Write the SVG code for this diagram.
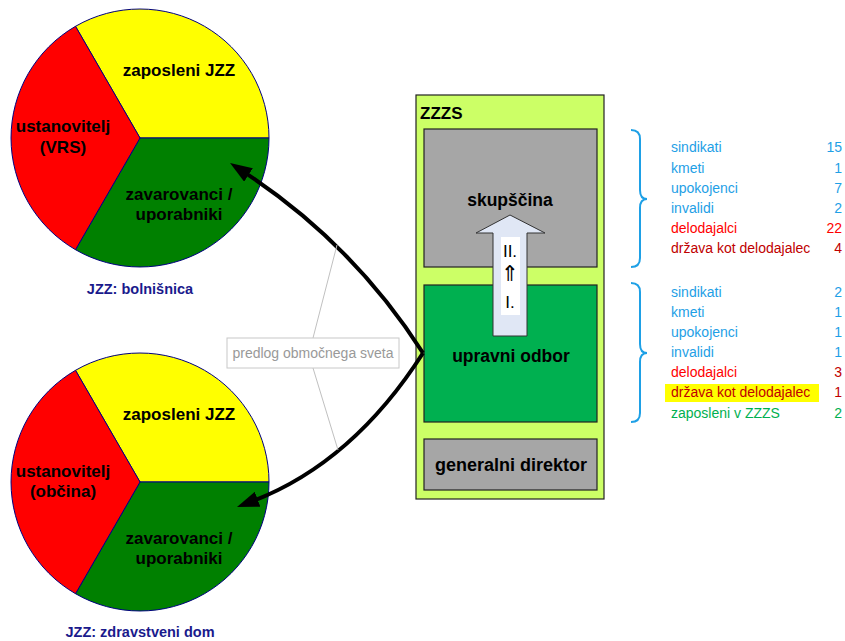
<svg xmlns="http://www.w3.org/2000/svg" width="845" height="641" viewBox="0 0 845 641">
<defs>
<style>
.t{font-family:"Liberation Sans",Arial,sans-serif}
.b{font-family:"Liberation Sans",Arial,sans-serif;font-weight:bold}
.pie{stroke:#000080;stroke-width:1}
.box{stroke:#222;stroke-width:1.2}
.lst{font-family:"Liberation Sans",Arial,sans-serif;font-size:14px}
.blue{fill:#1ea0e6}
.red{fill:#ff0000}
.dred{fill:#c00000}
.grn{fill:#00b050}
.brace{fill:none;stroke:#1ea0e6;stroke-width:2}
</style>
<marker id="ah" viewBox="0 0 22 16" markerUnits="userSpaceOnUse" markerWidth="22" markerHeight="16" refX="8" refY="8" orient="auto">
<path d="M0,0 L22,8 L0,16 z" fill="#000"/>
</marker>
</defs>
<rect width="845" height="641" fill="#fff"/>

<g id="pie-bolnisnica">
<path class="pie" d="M140,138 L75.5,26.3 A129,129 0 0 1 269,138 Z" fill="#ffff00"/>
<path class="pie" d="M140,138 L269,138 A129,129 0 0 1 75.5,249.7 Z" fill="#008000"/>
<path class="pie" d="M140,138 L75.5,249.7 A129,129 0 0 1 75.5,26.3 Z" fill="#ff0000"/>
<text class="b" font-size="17" x="179" y="76" text-anchor="middle">zaposleni JZZ</text>
<text class="b" font-size="17" x="63" y="132" text-anchor="middle">ustanovitelj</text>
<text class="b" font-size="17" x="63" y="153" text-anchor="middle">(VRS)</text>
<text class="b" font-size="17" x="179" y="200" text-anchor="middle">zavarovanci /</text>
<text class="b" font-size="17" x="179" y="220" text-anchor="middle">uporabniki</text>
<text class="b" font-size="14.5" x="140" y="294" text-anchor="middle" fill="#1a1a8c">JZZ: bolnišnica</text>
</g>

<g id="pie-zdravstveni-dom">
<path class="pie" d="M140,482 L75.5,370.3 A129,129 0 0 1 269,482 Z" fill="#ffff00"/>
<path class="pie" d="M140,482 L269,482 A129,129 0 0 1 75.5,593.7 Z" fill="#008000"/>
<path class="pie" d="M140,482 L75.5,593.7 A129,129 0 0 1 75.5,370.3 Z" fill="#ff0000"/>
<text class="b" font-size="17" x="179" y="420" text-anchor="middle">zaposleni JZZ</text>
<text class="b" font-size="17" x="63" y="477" text-anchor="middle">ustanovitelj</text>
<text class="b" font-size="17" x="63" y="497" text-anchor="middle">(občina)</text>
<text class="b" font-size="17" x="179" y="544" text-anchor="middle">zavarovanci /</text>
<text class="b" font-size="17" x="179" y="564" text-anchor="middle">uporabniki</text>
<text class="b" font-size="14.5" x="140" y="637" text-anchor="middle" fill="#1a1a8c">JZZ: zdravstveni dom</text>
</g>

<g id="zzzs">
<rect class="box" x="416" y="95" width="188" height="404" fill="#ccff66"/>
<text class="b" font-size="17" x="420" y="119">ZZZS</text>
</g>

<g id="skupscina">
<rect class="box" x="424" y="129" width="173" height="138" fill="#a6a6a6"/>
<text class="b" font-size="17.5" x="510" y="206" text-anchor="middle">skupščina</text>
</g>

<g id="upravni-odbor">
<rect class="box" x="424" y="285" width="173" height="137" fill="#00b050"/>
<text class="b" font-size="17.5" x="511" y="362" text-anchor="middle">upravni odbor</text>
</g>

<g id="generalni-direktor">
<rect class="box" x="424" y="439" width="173" height="51" fill="#a6a6a6"/>
<text class="b" font-size="18" x="511" y="471" text-anchor="middle">generalni direktor</text>
</g>

<g id="block-arrow">
<path d="M493,336 L493,233 L476,233 L510,215 L545,233 L527,233 L527,336 Z" fill="#e0e7f5" stroke="#333" stroke-width="1"/>
<rect x="501" y="237" width="19" height="78" fill="#fff"/>
<text class="t" font-size="17" x="510" y="257" text-anchor="middle">II.</text>
<text font-family="'DejaVu Sans',sans-serif" font-size="22" x="510" y="281" text-anchor="middle" fill="#000">⇑</text>
<text class="t" font-size="17" x="510" y="308" text-anchor="middle">I.</text>
</g>

<g id="connectors">
<path d="M423,353 Q352,242 241.8,170.6" fill="none" stroke="#000" stroke-width="4" marker-end="url(#ah)"/>
<path d="M423,353 Q352,464 250.1,502.1" fill="none" stroke="#000" stroke-width="4" marker-end="url(#ah)"/>
<line x1="313" y1="338" x2="337" y2="245" stroke="#c0c0c0" stroke-width="1"/>
<line x1="313" y1="368" x2="338" y2="450" stroke="#c0c0c0" stroke-width="1"/>
</g>

<g id="predlog">
<rect x="227" y="338" width="172" height="30" fill="#fff" stroke="#c8c8c8" stroke-width="1"/>
<text class="t" font-size="14" x="313" y="358" text-anchor="middle" fill="#999">predlog območnega sveta</text>
</g>

<g id="list-skupscina">
<path class="brace" d="M631,130 Q640,130 640,139 L640,190 Q640,199 647,199 Q640,199 640,208 L640,258 Q640,267 631,267"/>
<g class="lst">
<text class="blue" x="671" y="152">sindikati</text><text class="blue" x="842" y="152" text-anchor="end">15</text>
<text class="blue" x="671" y="173">kmeti</text><text class="blue" x="842" y="173" text-anchor="end">1</text>
<text class="blue" x="671" y="193">upokojenci</text><text class="blue" x="842" y="193" text-anchor="end">7</text>
<text class="blue" x="671" y="213">invalidi</text><text class="blue" x="842" y="213" text-anchor="end">2</text>
<text class="red" x="671" y="233">delodajalci</text><text class="red" x="842" y="233" text-anchor="end">22</text>
<text class="dred" x="671" y="253">država kot delodajalec</text><text class="dred" x="842" y="253" text-anchor="end">4</text>
</g>
</g>

<g id="list-upravni-odbor">
<path class="brace" d="M631,283 Q640,283 640,292 L640,344 Q640,353 647,353 Q640,353 640,362 L640,413 Q640,422 631,422"/>
<rect x="665" y="384" width="154" height="18" fill="#ffff00"/>
<g class="lst">
<text class="blue" x="671" y="297">sindikati</text><text class="blue" x="842" y="297" text-anchor="end">2</text>
<text class="blue" x="671" y="317">kmeti</text><text class="blue" x="842" y="317" text-anchor="end">1</text>
<text class="blue" x="671" y="337">upokojenci</text><text class="blue" x="842" y="337" text-anchor="end">1</text>
<text class="blue" x="671" y="357">invalidi</text><text class="blue" x="842" y="357" text-anchor="end">1</text>
<text class="red" x="671" y="377">delodajalci</text><text class="dred" x="842" y="377" text-anchor="end">3</text>
<text class="dred" x="671" y="397">država kot delodajalec</text><text class="dred" x="842" y="397" text-anchor="end">1</text>
<text class="grn" x="671" y="418">zaposleni v ZZZS</text><text class="grn" x="842" y="418" text-anchor="end">2</text>
</g>
</g>
</svg>
